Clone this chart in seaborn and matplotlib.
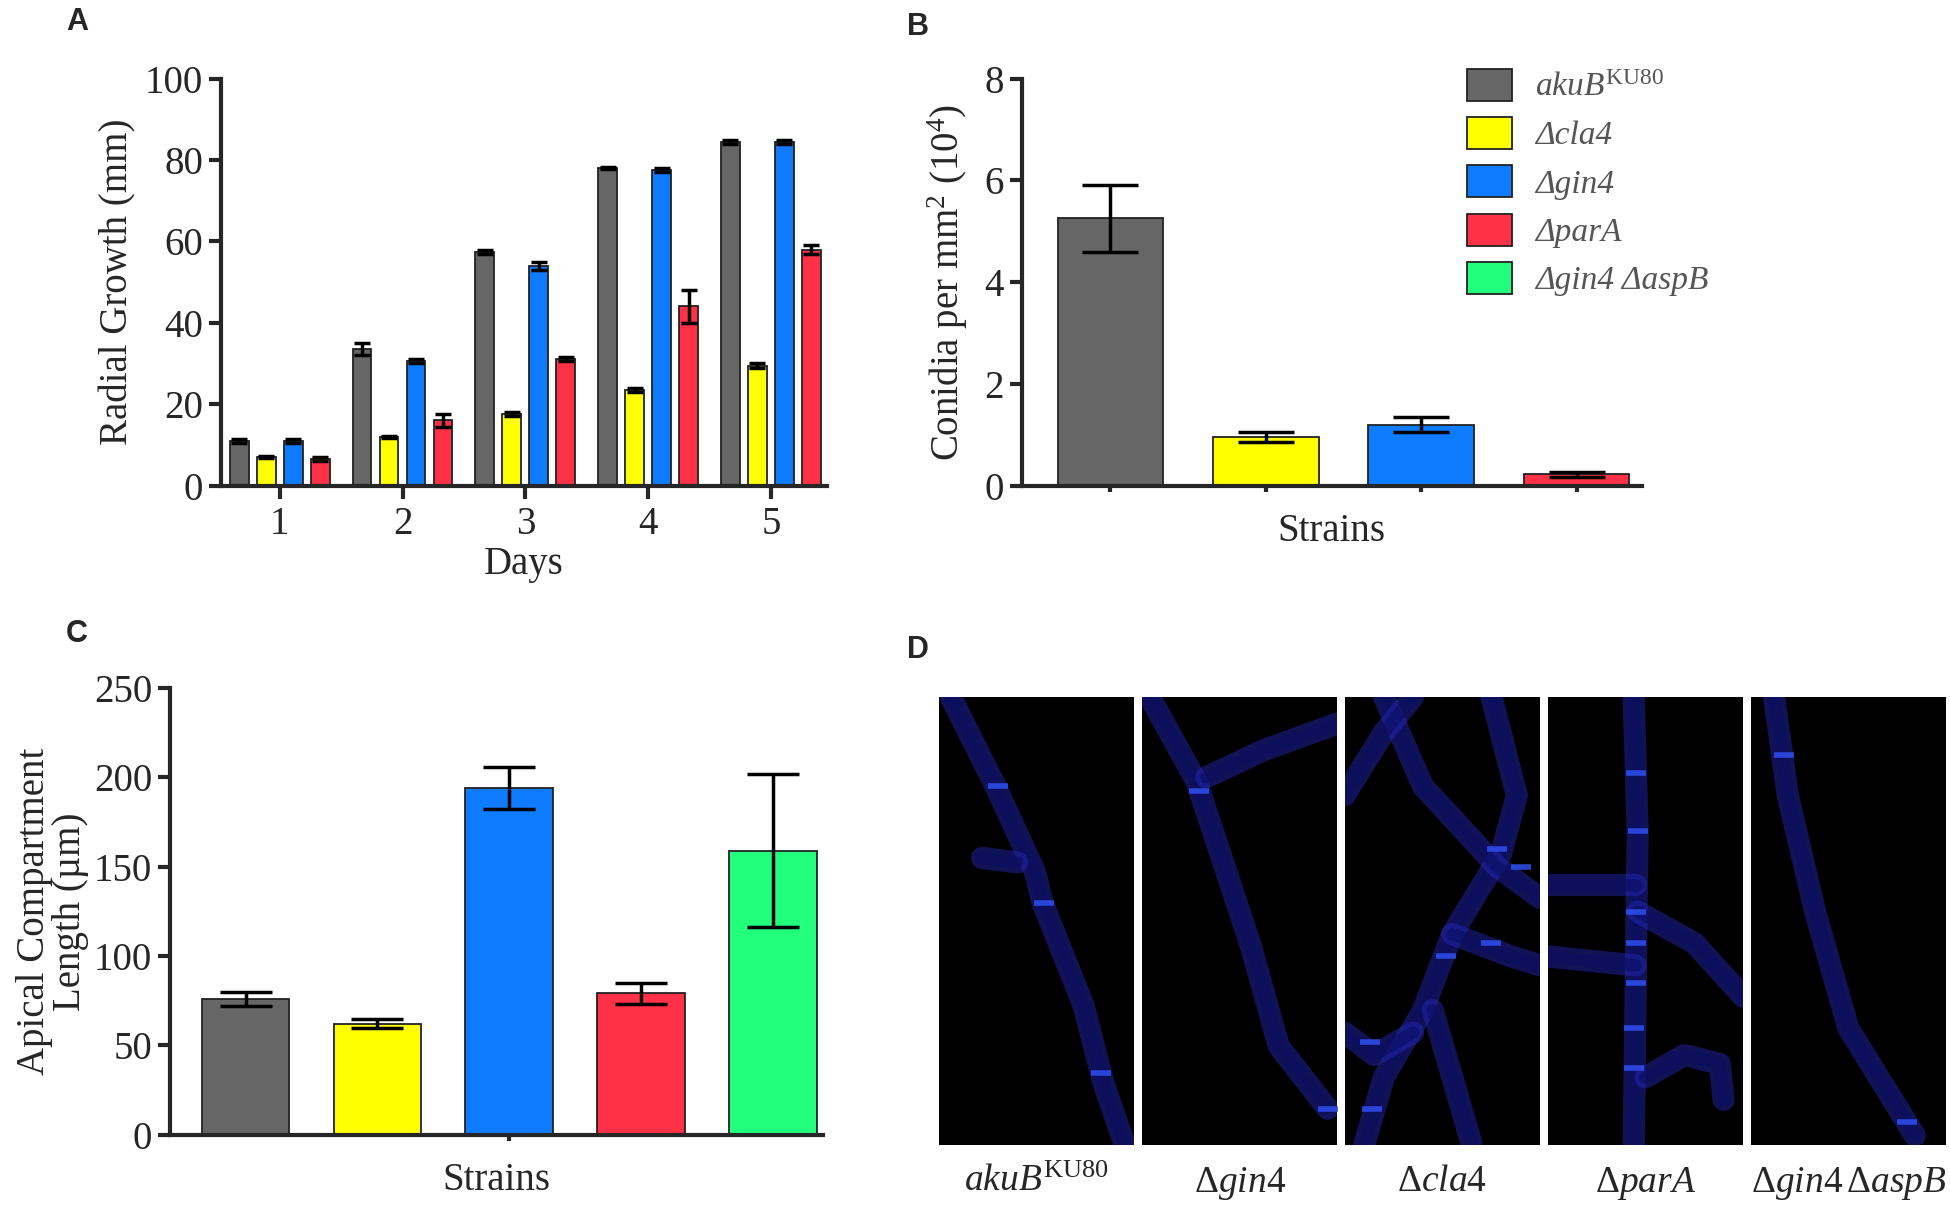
import numpy as np
import pandas as pd
import seaborn as sns
import matplotlib.pyplot as plt
from matplotlib.patches import Patch

# ---- data ----
days = [1, 2, 3, 4, 5]
strains_a = ['akuB', 'cla4', 'gin4', 'parA']
growth_aku = [11, 33.5, 57.5, 78, 84.5]
growth_cla4 = [7, 12, 17.5, 23.5, 29.5]
growth_gin4 = [11, 30.5, 54, 77.5, 84.5]
growth_parA = [6.5, 16, 31, 44, 58]
err_aku = [0.5, 1.5, 0.5, 0.3, 0.5]
err_cla4 = [0.3, 0.3, 0.5, 0.5, 0.5]
err_gin4 = [0.5, 0.5, 1.0, 0.5, 0.5]
err_parA = [0.5, 1.5, 0.5, 4.0, 1.0]

strains_b = ['akuB', 'cla4', 'gin4', 'parA']
conidia = [5.25, 0.95, 1.2, 0.22]
conidia_err = [0.65, 0.1, 0.15, 0.05]

strains_c = ['akuB', 'cla4', 'gin4', 'parA', 'gin4aspB']
apical = [76, 62, 194, 79, 159]
apical_err = [4, 2.5, 12, 6, 43]

colors = {'akuB': '#666666', 'cla4': '#ffff00', 'gin4': '#0f7bff',
          'parA': '#ff3147', 'gin4aspB': '#22ff7c'}
legend_labels = [r'$\mathit{akuB}^{\mathrm{KU80}}$', 'Δcla4', 'Δgin4', 'ΔparA',
                 'Δgin4 ΔaspB']
image_labels = [r'$\mathit{akuB}^{\mathrm{KU80}}$', r'$\Delta\mathit{gin4}$',
                r'$\Delta\mathit{cla4}$', r'$\Delta\mathit{parA}$',
                r'$\Delta\mathit{gin4}\,\Delta\mathit{aspB}$']

hyphae = [
    [([0.06, 0.29, 0.49, 0.53, 0.74, 0.84, 0.95], [1.0, 0.80, 0.61, 0.54, 0.31, 0.14, 0.0]),
     ([0.22, 0.40], [0.64, 0.63])],
    [([0.04, 0.28, 0.56, 0.70, 0.95], [1.0, 0.81, 0.44, 0.22, 0.08]),
     ([0.33, 0.62, 1.0], [0.82, 0.88, 0.94])],
    [([0.75, 0.88, 0.80, 0.55, 0.40, 0.20, 0.10], [1.0, 0.78, 0.65, 0.47, 0.30, 0.15, 0.0]),
     ([0.20, 0.40, 0.78, 1.0], [1.0, 0.80, 0.62, 0.55]),
     ([0.0, 0.20, 0.35], [0.78, 0.92, 1.0]),
     ([0.55, 0.85, 1.0], [0.47, 0.42, 0.40]),
     ([0.45, 0.55, 0.65], [0.30, 0.15, 0.0]),
     ([0.0, 0.15, 0.35], [0.25, 0.20, 0.25])],
    [([0.44, 0.46, 0.45, 0.44], [1.0, 0.70, 0.35, 0.0]),
     ([0.0, 0.45], [0.58, 0.58]),
     ([0.0, 0.45], [0.42, 0.40]),
     ([0.46, 0.75, 1.0], [0.52, 0.45, 0.33]),
     ([0.50, 0.70, 0.88, 0.90], [0.15, 0.20, 0.18, 0.10])],
    [([0.12, 0.19, 0.33, 0.50, 0.84], [1.0, 0.78, 0.52, 0.26, 0.02])],
]
septa_x = [[0.30, 0.54, 0.83], [0.29, 0.95], [0.78, 0.90, 0.75, 0.52, 0.13, 0.14],
           [0.45, 0.46, 0.45, 0.45, 0.45, 0.44, 0.44], [0.17, 0.80]]
septa_y = [[0.80, 0.54, 0.16], [0.79, 0.08], [0.66, 0.62, 0.45, 0.42, 0.23, 0.08],
           [0.83, 0.70, 0.52, 0.45, 0.36, 0.26, 0.17], [0.87, 0.05]]

# ---- style ----
sns.set_theme(style='ticks')
plt.rcParams['font.family'] = ['Liberation Serif', 'DejaVu Serif']
plt.rcParams['mathtext.fontset'] = 'custom'
plt.rcParams['mathtext.rm'] = 'Liberation Serif'
plt.rcParams['mathtext.it'] = 'Liberation Serif:italic'
plt.rcParams['mathtext.bf'] = 'Liberation Serif:bold'
FS = 28
EDGE = '#222222'


def style_axis(ax):
    sns.despine(ax=ax)
    for s in ['left', 'bottom']:
        ax.spines[s].set_linewidth(3)
    ax.tick_params(axis='y', length=9, width=3, labelsize=FS, pad=4)
    ax.tick_params(axis='x', width=3, labelsize=FS)


def add_errors(ax, bars, errs, cap):
    xs = [b.get_x() + b.get_width() / 2 for b in bars]
    ys = [b.get_height() for b in bars]
    ax.errorbar(xs, ys, yerr=errs, fmt='none', ecolor='black',
                elinewidth=2.5, capsize=cap, capthick=2.5, zorder=5)


fig = plt.figure(figsize=(19.5, 12.08), dpi=100)

# ---- A ----
ax_a = fig.add_axes([0.1135, 0.598, 0.3105, 0.337])
df_a = pd.DataFrame({
    'day': days * 4,
    'strain': np.repeat(strains_a, len(days)),
    'growth': growth_aku + growth_cla4 + growth_gin4 + growth_parA,
})
sns.barplot(data=df_a, x='day', y='growth', hue='strain', hue_order=strains_a,
            palette=colors, saturation=1, width=0.88, gap=0.3, edgecolor=EDGE,
            linewidth=1.3, errorbar=None, legend=False, ax=ax_a)
for cont, e in zip(ax_a.containers, [err_aku, err_cla4, err_gin4, err_parA]):
    add_errors(ax_a, cont, e, 6)
ax_a.set_ylim(0, 100)
ax_a.set_yticks([0, 20, 40, 60, 80, 100])
ax_a.set_xlim(-0.476, 4.456)
style_axis(ax_a)
ax_a.tick_params(axis='x', length=9, pad=6)
ax_a.set_xlabel('Days', fontsize=FS, labelpad=2)
ax_a.set_ylabel('Radial Growth (mm)', fontsize=FS, labelpad=6)

# ---- B ----
ax_b = fig.add_axes([0.524, 0.598, 0.318, 0.337])
sns.barplot(x=strains_b, y=conidia, hue=strains_b, palette=colors, saturation=1,
            width=0.68, edgecolor=EDGE, linewidth=1.3, errorbar=None,
            legend=False, ax=ax_b)
add_errors(ax_b, ax_b.patches, conidia_err, 20)
ax_b.set_ylim(0, 8)
ax_b.set_yticks([0, 2, 4, 6, 8])
ax_b.set_xlim(-0.57, 3.42)
style_axis(ax_b)
ax_b.tick_params(axis='x', length=4, labelbottom=False)
ax_b.set_xlabel('Strains', fontsize=FS, labelpad=16)
ax_b.set_ylabel('Conidia per mm$^2$ (10$^4$)', fontsize=FS, labelpad=10)
handles = [Patch(facecolor=colors[k], edgecolor=EDGE, linewidth=1.3)
           for k in strains_c]
leg = fig.legend(handles, legend_labels, loc='upper left',
                 bbox_to_anchor=(0.737, 0.968), frameon=False, fontsize=24,
                 handlelength=1.35, handleheight=1.1, labelspacing=0.42,
                 handletextpad=0.7)
for t in leg.get_texts():
    t.set_color('#555555')
    t.set_fontstyle('italic')

# ---- C ----
ax_c = fig.add_axes([0.0874, 0.0608, 0.3346, 0.3697])
sns.barplot(x=strains_c, y=apical, hue=strains_c, palette=colors, saturation=1,
            width=0.665, edgecolor=EDGE, linewidth=1.3, errorbar=None,
            legend=False, ax=ax_c)
add_errors(ax_c, ax_c.patches, apical_err, 19)
ax_c.set_ylim(0, 250)
ax_c.set_yticks([0, 50, 100, 150, 200, 250])
ax_c.set_xlim(-0.57, 4.38)
style_axis(ax_c)
ax_c.set_xticks([2])
ax_c.tick_params(axis='x', length=4, labelbottom=False)
ax_c.set_xlabel('Strains', fontsize=FS, labelpad=16)
ax_c.set_ylabel('Apical Compartment\nLength (µm)', fontsize=FS, labelpad=4,
                linespacing=0.95)

# ---- D : micrographs ----
d_left, d_bottom, d_h = 0.4815, 0.0525, 0.3708
d_gap = 0.0038
d_w = (0.998 - d_left - 4 * d_gap) / 5
for i in range(5):
    ax = fig.add_axes([d_left + i * (d_w + d_gap), d_bottom, d_w, d_h])
    ax.set_facecolor('black')
    for hx, hy in hyphae[i]:
        ax.plot(hx, hy, color='#2529bd', lw=16, alpha=0.45,
                solid_capstyle='round', solid_joinstyle='round')
        ax.plot(hx, hy, color='#0c0e62', lw=9, alpha=0.65,
                solid_capstyle='round', solid_joinstyle='round')
    ax.plot(septa_x[i], septa_y[i], ls='none', marker='_', ms=15, mew=4,
            color='#2f4ff0', alpha=0.85)
    ax.set_xlim(0, 1)
    ax.set_ylim(0, 1)
    ax.set_xticks([])
    ax.set_yticks([])
    for s in ax.spines.values():
        s.set_visible(False)
    ax.text(0.5, -0.045, image_labels[i], transform=ax.transAxes,
            ha='center', va='top', fontsize=27)

# ---- panel letters ----
for lab, x, y in [('A', 0.0395, 0.982), ('B', 0.4707, 0.978),
                  ('C', 0.0395, 0.475), ('D', 0.4707, 0.462)]:
    fig.text(x, y, lab, fontsize=22, fontweight='bold', ha='center', va='center',
             family=['Liberation Sans', 'DejaVu Sans'])

fig.savefig('out.png', dpi=100)
